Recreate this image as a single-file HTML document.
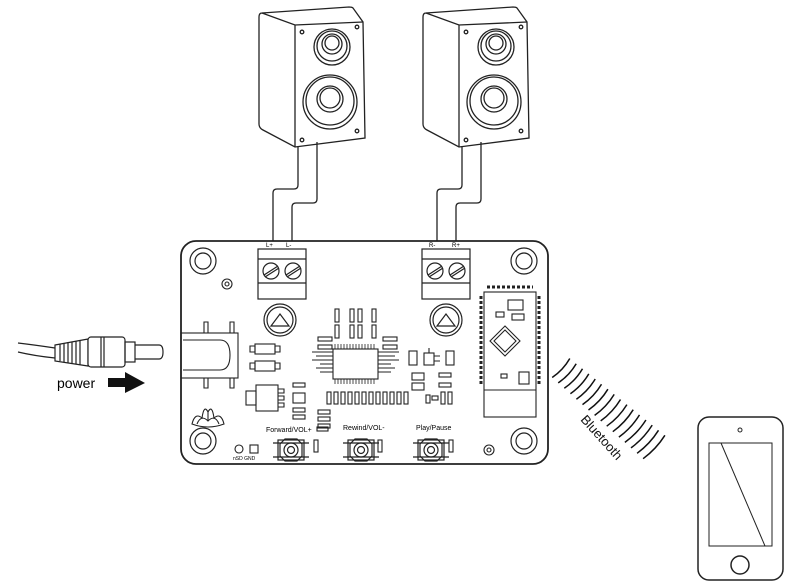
<!DOCTYPE html>
<html><head><meta charset="utf-8"><style>
html,body{margin:0;padding:0;background:#fff;width:800px;height:588px;overflow:hidden}
svg{display:block}
text{font-family:"Liberation Sans",sans-serif}
</style></head><body>
<svg width="800" height="588" viewBox="0 0 800 588" xmlns="http://www.w3.org/2000/svg">
<defs>
<g id="spk" fill="none" stroke="#222" stroke-width="1.3">
  <path d="M262,13 Q259,13 259,17 L259,124 Q259,128 263,130 L295,147 L365,138 L363,22 L353,8 Q352,7 349,7 Z" fill="#fff"/>
  <path d="M262,13 L295,25 L363,22 M295,25 L295,147"/>
  <circle cx="332" cy="47" r="18"/><circle cx="332" cy="46" r="15"/><circle cx="332" cy="44" r="10"/><circle cx="332" cy="43" r="7"/>
  <circle cx="330" cy="102" r="27"/><circle cx="330" cy="101" r="24"/><circle cx="330" cy="99" r="13"/><circle cx="330" cy="98" r="10"/>
  <circle cx="302" cy="32" r="1.8"/><circle cx="357" cy="27" r="1.8"/><circle cx="302" cy="140" r="1.8"/><circle cx="357" cy="131" r="1.8"/>
  <path d="M298,147 L298,185 Q298,189 294,189 L277,189 Q273,189 273,193 L273,250"/>
  <path d="M317,142 L317,199 Q317,203 313,203 L296,203 Q292,203 292,207 L292,250"/>
</g>
<g id="term" fill="none" stroke="#222" stroke-width="1.2">
  <rect x="0" y="0" width="48" height="50" fill="#fff"/>
  <line x1="0" y1="10" x2="48" y2="10"/><line x1="0" y1="34" x2="48" y2="34"/>
  <circle cx="13" cy="22" r="8"/><circle cx="35" cy="22" r="8"/>
  <path d="M6,26 L20,17 M7,28 L21,19 M28,26 L42,17 M29,28 L43,19"/>
</g>
<g id="pot" fill="none" stroke="#222" stroke-width="1.2">
  <circle r="16"/><circle r="13"/><path d="M-9,6 L0,-6 L9,6 Z"/>
</g>
<g id="hole" fill="none" stroke="#222" stroke-width="1.2"><circle r="13"/><circle r="8"/></g>
<g id="btn" fill="none" stroke="#222" stroke-width="1.2">
  <rect x="-13" y="-10" width="26" height="20"/><path d="M-18,-7 H18 M-18,7 H18"/>
  <path d="M-6,-11 L6,-11 L11,-6 L11,6 L6,11 L-6,11 L-11,6 L-11,-6 Z"/><circle r="7"/><circle r="3.5"/>
</g>
</defs>

<use href="#spk"/>
<use href="#spk" transform="translate(164,0)"/>

<g fill="none" stroke="#222" stroke-width="1.3">
<rect x="181" y="241" width="367" height="223" rx="15" fill="#fff" stroke-width="1.8"/>
</g>
<text x="266" y="247" font-size="6">L+</text><text x="286" y="247" font-size="6">L-</text>
<text x="429" y="247" font-size="6">R-</text><text x="452" y="247" font-size="6">R+</text>
<use href="#term" transform="translate(258,249)"/>
<use href="#term" transform="translate(422,249)"/>
<use href="#hole" transform="translate(203,261)"/>
<use href="#hole" transform="translate(524,261)"/>
<use href="#hole" transform="translate(203,441)"/>
<use href="#hole" transform="translate(524,441)"/>
<g fill="none" stroke="#222" stroke-width="1.1">
<circle cx="227" cy="284" r="5"/><circle cx="227" cy="284" r="2"/>
<circle cx="489" cy="450" r="5"/><circle cx="489" cy="450" r="2"/>
</g>
<use href="#pot" transform="translate(280,320)"/>
<use href="#pot" transform="translate(446,320)"/>
<g fill="none" stroke="#222" stroke-width="1.1">
<rect x="181" y="333" width="57" height="45"/><path d="M183,340 L220,340 Q230,340 230,355 Q230,370 220,370 L183,370"/>
<path d="M204,333 V322 H208 V333 M230,333 V322 H234 V333 M204,378 V388 H208 V378 M230,378 V388 H234 V378"/>
<rect x="255" y="344" width="20" height="10"/><path d="M250,346 h5 v6 h-5z M275,346 h5 v6 h-5z"/>
<rect x="255" y="361" width="20" height="10"/><path d="M250,363 h5 v6 h-5z M275,363 h5 v6 h-5z"/>
<rect x="256" y="385" width="22" height="26"/><rect x="246" y="391" width="10" height="14"/>
<path d="M278,389 h6 v4 h-6 M278,396 h6 v4 h-6 M278,403 h6 v4 h-6"/>
<rect x="293" y="383" width="12" height="4"/><rect x="293" y="393" width="12" height="10"/><rect x="293" y="408" width="12" height="4"/><rect x="293" y="415" width="12" height="4"/>
<rect x="318" y="410" width="12" height="4"/><rect x="318" y="417" width="12" height="4"/><rect x="318" y="424" width="12" height="4"/>
<rect x="333" y="349" width="45" height="30"/>
<path d="M312,352 H333 M316,356 H333 M312,360 H333 M320,364 H333 M316,368 H333 M320,372 H333 M378,352 H399 M378,356 H395 M378,360 H399 M378,364 H391 M378,368 H395 M378,372 H391"/>
<path d="M335,344 v5 M338,344 v5 M341,344 v5 M344,344 v5 M347,344 v5 M350,344 v5 M353,344 v5 M356,344 v5 M359,344 v5 M362,344 v5 M365,344 v5 M368,344 v5 M371,344 v5 M374,344 v5 M335,379 v5 M338,379 v5 M341,379 v5 M344,379 v5 M347,379 v5 M350,379 v5 M353,379 v5 M356,379 v5 M359,379 v5 M362,379 v5 M365,379 v5 M368,379 v5 M371,379 v5 M374,379 v5" stroke-width="0.8"/>
<rect x="335" y="309" width="4" height="13"/><rect x="350" y="309" width="4" height="13"/><rect x="358" y="309" width="4" height="13"/><rect x="372" y="309" width="4" height="13"/>
<rect x="335" y="325" width="4" height="13"/><rect x="350" y="325" width="4" height="13"/><rect x="358" y="325" width="4" height="13"/><rect x="372" y="325" width="4" height="13"/>
<rect x="318" y="337" width="14" height="4"/><rect x="318" y="345" width="14" height="4"/><rect x="383" y="337" width="14" height="4"/><rect x="383" y="345" width="14" height="4"/>
<rect x="327" y="392" width="4" height="12"/><rect x="334" y="392" width="4" height="12"/><rect x="341" y="392" width="4" height="12"/><rect x="348" y="392" width="4" height="12"/><rect x="355" y="392" width="4" height="12"/><rect x="362" y="392" width="4" height="12"/><rect x="369" y="392" width="4" height="12"/><rect x="376" y="392" width="4" height="12"/><rect x="383" y="392" width="4" height="12"/><rect x="390" y="392" width="4" height="12"/><rect x="397" y="392" width="4" height="12"/><rect x="404" y="392" width="4" height="12"/>
<rect x="426" y="395" width="4" height="8"/><rect x="432" y="396" width="6" height="4"/><rect x="441" y="392" width="4" height="12"/><rect x="448" y="392" width="4" height="12"/>
<rect x="409" y="351" width="8" height="14"/><rect x="446" y="351" width="8" height="14"/><rect x="424" y="353" width="10" height="12"/>
<path d="M434,356 h6 M434,361 h6 M429,348 v5"/>
<rect x="412" y="373" width="12" height="7"/><rect x="412" y="383" width="12" height="7"/><rect x="439" y="373" width="12" height="4"/><rect x="439" y="383" width="12" height="4"/>
<rect x="484" y="292" width="52" height="125"/><line x1="484" y1="390" x2="536" y2="390"/>
<path d="M487,287 h46" stroke-dasharray="3 2" stroke-width="3"/>
<path d="M481,296 v88 M539,296 v88" stroke-dasharray="3 2" stroke-width="3"/>
<path d="M505,326 L520,341 L505,356 L490,341 Z M505,330 L516,341 L505,352 L494,341 Z"/>
<rect x="508" y="300" width="15" height="10"/><rect x="496" y="312" width="8" height="5"/><rect x="512" y="314" width="12" height="6"/>
<rect x="519" y="372" width="10" height="12"/><rect x="501" y="374" width="6" height="4"/>
<path d="M192,424 Q195,412 202,418 Q204,404 208,412 Q212,404 214,418 Q221,412 224,424 Q208,430 192,424 Z M197,424 Q201,414 208,421 Q215,414 219,424 M208,412 L208,421"/>
<rect x="314" y="440" width="4" height="12"/><rect x="378" y="440" width="4" height="12"/><rect x="449" y="440" width="4" height="12"/>
<rect x="317" y="427" width="11" height="4"/>
<circle cx="239" cy="449" r="4"/><rect x="250" y="445" width="8" height="8"/>
</g>
<use href="#btn" transform="translate(291,450)"/>
<use href="#btn" transform="translate(361,450)"/>
<use href="#btn" transform="translate(431,450)"/>
<text x="266" y="432" font-size="7">Forward/VOL+</text>
<text x="343" y="430" font-size="7">Rewind/VOL-</text>
<text x="416" y="430" font-size="7">Play/Pause</text>
<text x="233" y="460" font-size="5">nSD GND</text>

<g fill="none" stroke="#222" stroke-width="1.2">
<path d="M18,343 Q35,345 55,348 M18,352 Q35,356 55,358"/>
<path d="M55,345 L88,339 L88,366 L55,361 Z" fill="#fff"/>
<path d="M60,344 v17 M64,343 v19 M68,342 v21 M72,342 v22 M76,341 v23 M80,340 v25"/>
<rect x="88" y="337" width="37" height="30" rx="3" fill="#fff"/>
<path d="M101,337 v30 M104,337 v30"/>
<rect x="125" y="342" width="10" height="20"/>
<path d="M135,345 H159 Q163,345 163,352 Q163,359 159,359 H135"/>
</g>
<text x="57" y="388" font-size="14">power</text>
<path d="M108,378 H125 V372 L145,383 L125,393 V387 H108 Z" fill="#111"/>

<g fill="none" stroke="#111" stroke-width="1.5">
<path d="M552.2,377.5 Q563.2,370 569.8,358.5"/>
<path d="M558.2,382.9 Q569.4,375.3 576.2,363.7"/>
<path d="M564.3,388.3 Q575.6,380.5 582.5,368.7"/>
<path d="M570.4,393.7 Q581.8,385.8 588.8,373.9"/>
<path d="M576.4,399.2 Q588,391.1 595.2,379"/>
<path d="M582.5,404.6 Q594.2,396.4 601.5,384.2"/>
<path d="M588.5,410 Q600.4,401.6 607.9,389.2"/>
<path d="M594.6,415.4 Q606.6,406.9 614.2,394.4"/>
<path d="M600.7,420.9 Q612.8,412.2 620.5,399.5"/>
<path d="M606.7,426.2 Q619,417.4 626.9,404.6"/>
<path d="M612.8,431.7 Q625.2,422.7 633.2,409.7"/>
<path d="M618.9,437.1 Q631.4,428 639.5,414.9"/>
<path d="M624.9,442.4 Q637.6,433.2 645.9,420"/>
<path d="M631,447.9 Q643.8,438.5 652.2,425.1"/>
<path d="M637.1,453.3 Q650,443.8 658.5,430.3"/>
<path d="M643.1,458.7 Q656.2,449 664.9,435.3"/>
</g>
<text x="0" y="0" font-size="13" transform="translate(580,420) rotate(48)" fill="#111">Bluetooth</text>

<g fill="none" stroke="#222" stroke-width="1.5">
<rect x="698" y="417" width="85" height="163" rx="11"/>
<rect x="709" y="443" width="63" height="103" stroke-width="1"/>
<path d="M721,443 L765,546" stroke-width="1"/>
<circle cx="740" cy="430" r="2" stroke-width="1"/>
<circle cx="740" cy="565" r="9"/>
</g>
</svg>
</body></html>
